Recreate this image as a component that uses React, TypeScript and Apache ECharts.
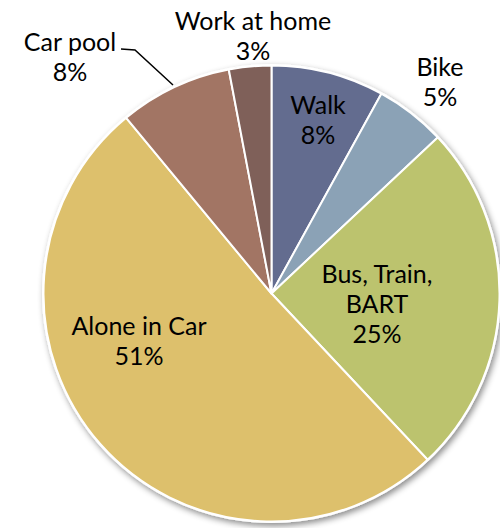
import React, { useEffect, useRef } from "react";
import * as echarts from "echarts";

const categories = ["Walk", "Bike", "Bus, Train,\nBART", "Alone in Car", "Car pool", "Work at home"];
const shares = [8, 5, 25, 51, 8, 3];
const colors = ["#636C8F", "#8BA2B6", "#BCC36E", "#DDC06C", "#A27564", "#7F6059"];

// label anchor points (layout only)
const labelPos: [number, number][] = [
  [318, 119],
  [440, 81],
  [377, 303],
  [139, 340],
  [70, 56],
  [253, 35],
];

export default function App() {
  const ref = useRef<HTMLDivElement>(null);
  useEffect(() => {
    const chart = echarts.init(ref.current!, null, { renderer: "svg" });
    const center = [271.5, 293.5];
    chart.setOption({
      animation: false,
      backgroundColor: "#ffffff",
      series: [
        {
          type: "pie",
          silent: true,
          center,
          radius: 229.5,
          z: 1,
          label: { show: false },
          labelLine: { show: false },
          itemStyle: {
            color: "#ffffff",
            shadowBlur: 6,
            shadowOffsetX: 2,
            shadowOffsetY: 3,
            shadowColor: "rgba(0,0,0,0.45)",
          },
          data: [{ value: 1, name: "" }],
        },
        {
          type: "pie",
          center,
          radius: 228,
          startAngle: 90,
          clockwise: true,
          avoidLabelOverlap: false,
          z: 2,
          itemStyle: { borderColor: "#ffffff", borderWidth: 2 },
          label: {
            show: true,
            position: "outside",
            overflow: "none",
            fontFamily: "Lato, 'Open Sans', sans-serif",
            fontSize: 25,
            lineHeight: 30,
            color: "#000000",
            align: "center",
            formatter: (p: any) => `${p.name}\n${p.value}%`,
          },
          labelLine: { show: false },
          labelLayout: (p: any) => {
            const pos = labelPos[p.dataIndex];
            const out: any = { x: pos[0], y: pos[1], align: "center", verticalAlign: "middle" };
            if (p.dataIndex === 4) {
              out.labelLinePoints = [
                [121, 49],
                [135, 50],
                [173, 85],
              ];
            }
            return out;
          },
          data: categories.map((c, i) => ({
            name: c,
            value: shares[i],
            itemStyle: { color: colors[i] },
            labelLine:
              i === 4
                ? { show: true, lineStyle: { color: "#000000", width: 1.5 } }
                : { show: false },
          })),
        },
      ],
    });
    return () => chart.dispose();
  }, []);
  return (
    <div
      ref={ref}
      style={{ position: "absolute", left: 0, top: 0, width: 500, height: 528 }}
    />
  );
}
